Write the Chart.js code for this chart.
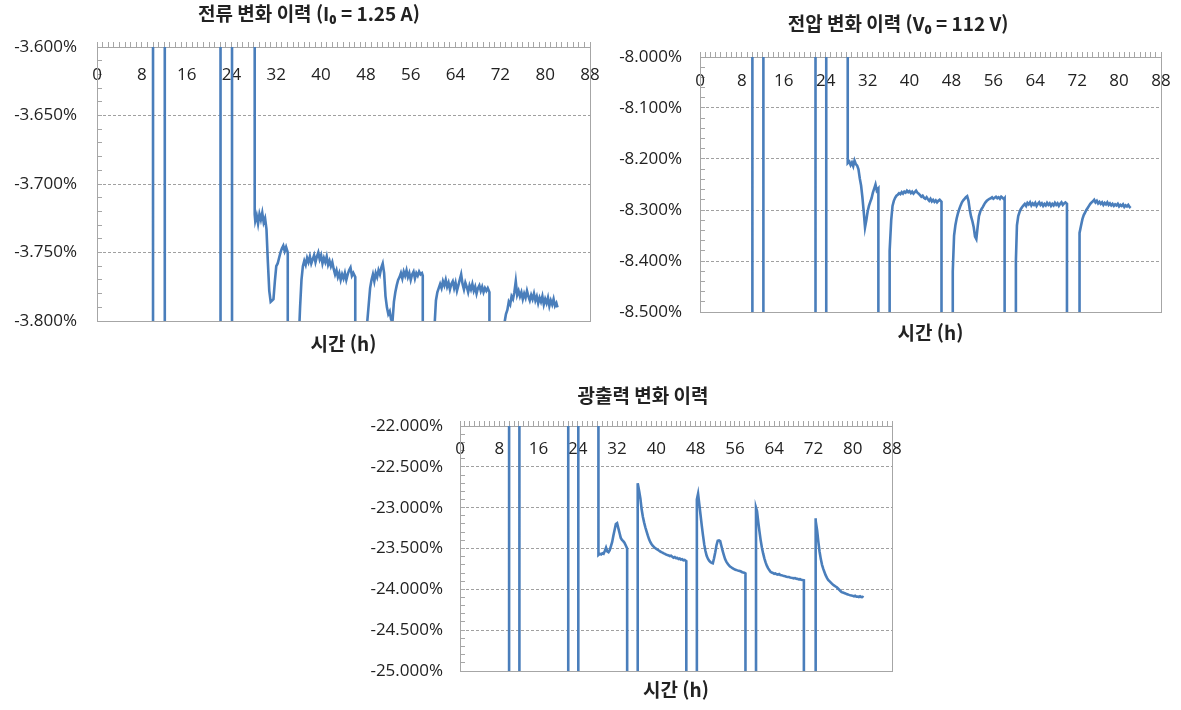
<!DOCTYPE html>
<html lang="ko">
<head>
<meta charset="utf-8">
<title>변화 이력</title>
<script src="https://cdn.jsdelivr.net/npm/chart.js@4/dist/chart.umd.min.js"></script>
<style>
  html, body { margin: 0; padding: 0; background: #fff; }
  #page { position: relative; width: 1181px; height: 710px; overflow: hidden; }
  canvas { position: absolute; }
  #current-chart { left: 0; top: 0; }
  #voltage-chart { left: 600px; top: 0; }
  #power-chart { left: 340px; top: 370px; }
</style>
</head>
<body>
<div id="page">
  <canvas id="current-chart" width="618" height="360"></canvas>
  <canvas id="voltage-chart" width="596" height="360"></canvas>
  <canvas id="power-chart" width="606" height="340"></canvas>
</div>
<script>
// sample times (h). repeated hours = trace jumps off scale (0% above, -100% below)
const hours = [
  [0, 10, 10, 12.1, 12.1, 22.05, 22.05, 24.1, 24.1, 28.15],
  [28.15, 28.25, 28.5, 28.75, 29, 29.25, 29.5, 29.75, 30, 30.25, 30.5, 30.75, 31, 31.25, 31.5, 31.75, 32, 32.25, 32.5, 32.75, 33, 33.25, 33.5, 33.75, 34.05],
  [34.05, 36.15],
  [36.15, 36.25, 36.5, 36.75, 37, 37.25, 37.5, 37.75, 38, 38.25, 38.5, 38.75, 39, 39.25, 39.5, 39.75, 40, 40.25, 40.5, 40.75, 41, 41.25, 41.5, 41.75, 42, 42.25, 42.5, 42.75, 43, 43.25, 43.5, 43.75, 44, 44.25, 44.5, 44.75, 45, 45.25, 45.5, 45.75, 46.1],
  [46.1, 48.25],
  [48.25, 48.5, 48.75, 49, 49.25, 49.5, 49.75, 50, 50.25, 50.5, 50.75, 51, 51.25, 51.5, 51.75, 52, 52.25, 52.5, 52.75, 53, 53.25, 53.5, 53.75, 54, 54.25, 54.5, 54.75, 55, 55.25, 55.5, 55.75, 56, 56.25, 56.5, 56.75, 57, 57.25, 57.5, 57.75, 58, 58.15],
  [58.15, 60.3],
  [60.3, 60.5, 60.75, 61, 61.25, 61.5, 61.75, 62, 62.25, 62.5, 62.75, 63, 63.25, 63.5, 63.75, 64, 64.25, 64.5, 64.75, 65, 65.25, 65.5, 65.75, 66, 66.25, 66.5, 66.75, 67, 67.25, 67.5, 67.75, 68, 68.25, 68.5, 68.75, 69, 69.25, 69.5, 69.75, 70.05],
  [70.05, 72.4],
  [72.4, 72.5, 72.75, 73, 73.25, 73.5, 73.75, 74, 74.25, 74.5, 74.75, 75, 75.25, 75.5, 75.75, 76, 76.25, 76.5, 76.75, 77, 77.25, 77.5, 77.75, 78, 78.25, 78.5, 78.75, 79, 79.25, 79.5, 79.75, 80, 80.25, 80.5, 80.75, 81, 81.25, 81.5, 81.75, 82, 82.2]
].flat();

// current change (%)
const current = [
  [0, 0, -100, -100, 0, 0, -100, -100, 0, 0],
  [-3.722, -3.727, -3.723, -3.729, -3.722, -3.726, -3.721, -3.728, -3.725, -3.733, -3.757, -3.778, -3.786, -3.785, -3.784, -3.771, -3.760, -3.758, -3.754, -3.750, -3.747, -3.745, -3.749, -3.746, -3.750],
  [-100, -100],
  [-3.800, -3.790, -3.770, -3.760, -3.756, -3.759, -3.754, -3.757, -3.753, -3.758, -3.755, -3.752, -3.757, -3.753, -3.750, -3.755, -3.752, -3.758, -3.754, -3.757, -3.753, -3.759, -3.756, -3.760, -3.757, -3.762, -3.766, -3.763, -3.768, -3.765, -3.770, -3.766, -3.769, -3.765, -3.770, -3.766, -3.763, -3.761, -3.767, -3.765, -3.768],
  [-100, -100],
  [-3.800, -3.788, -3.776, -3.770, -3.766, -3.771, -3.765, -3.768, -3.763, -3.766, -3.761, -3.758, -3.765, -3.782, -3.790, -3.795, -3.793, -3.799, -3.800, -3.786, -3.779, -3.774, -3.770, -3.768, -3.765, -3.769, -3.764, -3.767, -3.763, -3.768, -3.765, -3.770, -3.766, -3.764, -3.769, -3.765, -3.767, -3.764, -3.766, -3.765, -3.767],
  [-100, -100],
  [-3.800, -3.785, -3.779, -3.776, -3.773, -3.776, -3.771, -3.774, -3.770, -3.775, -3.772, -3.777, -3.773, -3.771, -3.776, -3.772, -3.778, -3.774, -3.770, -3.766, -3.773, -3.777, -3.772, -3.775, -3.779, -3.774, -3.777, -3.773, -3.778, -3.775, -3.780, -3.776, -3.774, -3.778, -3.775, -3.779, -3.776, -3.778, -3.776, -3.779],
  [-100, -100],
  [-3.815, -3.810, -3.801, -3.795, -3.792, -3.786, -3.788, -3.782, -3.784, -3.779, -3.771, -3.781, -3.778, -3.782, -3.779, -3.784, -3.780, -3.783, -3.778, -3.782, -3.785, -3.781, -3.784, -3.780, -3.785, -3.782, -3.787, -3.783, -3.786, -3.782, -3.788, -3.784, -3.787, -3.783, -3.789, -3.785, -3.788, -3.784, -3.789, -3.787, -3.790]
].flat();

// voltage change (%)
const voltage = [
  [0, 0, -100, -100, 0, 0, -100, -100, 0, 0],
  [-8.202, -8.208, -8.205, -8.212, -8.207, -8.214, -8.203, -8.210, -8.213, -8.220, -8.238, -8.252, -8.275, -8.303, -8.334, -8.320, -8.303, -8.292, -8.284, -8.277, -8.266, -8.258, -8.250, -8.262, -8.258],
  [-100, -100],
  [-8.500, -8.380, -8.320, -8.292, -8.282, -8.276, -8.272, -8.270, -8.267, -8.269, -8.265, -8.268, -8.264, -8.266, -8.262, -8.265, -8.263, -8.267, -8.264, -8.268, -8.265, -8.262, -8.266, -8.268, -8.271, -8.274, -8.272, -8.276, -8.278, -8.275, -8.279, -8.282, -8.278, -8.283, -8.280, -8.284, -8.281, -8.285, -8.282, -8.280, -8.284],
  [-100, -100],
  [-8.420, -8.350, -8.330, -8.316, -8.306, -8.298, -8.291, -8.285, -8.281, -8.278, -8.275, -8.273, -8.282, -8.300, -8.313, -8.322, -8.334, -8.352, -8.357, -8.333, -8.312, -8.303, -8.298, -8.294, -8.289, -8.285, -8.282, -8.280, -8.278, -8.277, -8.275, -8.278, -8.276, -8.274, -8.277, -8.275, -8.278, -8.274, -8.276, -8.279, -8.277],
  [-100, -100],
  [-8.400, -8.330, -8.312, -8.304, -8.298, -8.294, -8.291, -8.288, -8.292, -8.286, -8.289, -8.285, -8.291, -8.287, -8.290, -8.286, -8.292, -8.288, -8.285, -8.290, -8.287, -8.292, -8.288, -8.291, -8.286, -8.290, -8.287, -8.292, -8.288, -8.291, -8.286, -8.290, -8.287, -8.292, -8.288, -8.285, -8.290, -8.287, -8.285, -8.288],
  [-100, -100],
  [-8.360, -8.345, -8.330, -8.318, -8.310, -8.305, -8.300, -8.296, -8.292, -8.288, -8.285, -8.283, -8.280, -8.285, -8.282, -8.287, -8.284, -8.288, -8.285, -8.290, -8.286, -8.289, -8.285, -8.290, -8.287, -8.291, -8.288, -8.292, -8.289, -8.291, -8.288, -8.293, -8.290, -8.292, -8.289, -8.294, -8.291, -8.293, -8.290, -8.294, -8.296]
].flat();

// light output change (%)
const power = [
  [0, 0, -100, -100, 0, 0, -100, -100, 0, 0],
  [-23.575, -23.580, -23.565, -23.572, -23.558, -23.565, -23.530, -23.490, -23.535, -23.545, -23.520, -23.470, -23.420, -23.340, -23.270, -23.200, -23.190, -23.250, -23.310, -23.370, -23.395, -23.410, -23.430, -23.460, -23.500],
  [-100, -100],
  [-22.760, -22.700, -22.800, -22.890, -23.020, -23.110, -23.180, -23.240, -23.290, -23.340, -23.385, -23.420, -23.445, -23.465, -23.480, -23.495, -23.505, -23.515, -23.525, -23.535, -23.545, -23.550, -23.560, -23.565, -23.575, -23.580, -23.585, -23.592, -23.588, -23.600, -23.612, -23.605, -23.618, -23.615, -23.628, -23.622, -23.635, -23.630, -23.645, -23.640, -23.655],
  [-100, -100],
  [-22.900, -22.830, -22.960, -23.090, -23.220, -23.340, -23.450, -23.530, -23.590, -23.625, -23.650, -23.665, -23.675, -23.680, -23.620, -23.545, -23.460, -23.405, -23.400, -23.410, -23.470, -23.530, -23.580, -23.630, -23.660, -23.685, -23.705, -23.720, -23.730, -23.742, -23.750, -23.758, -23.762, -23.768, -23.772, -23.776, -23.782, -23.790, -23.795, -23.800, -23.805],
  [-100, -100],
  [-23.000, -23.040, -23.170, -23.290, -23.400, -23.490, -23.560, -23.620, -23.670, -23.710, -23.740, -23.765, -23.785, -23.795, -23.800, -23.810, -23.805, -23.815, -23.820, -23.812, -23.825, -23.828, -23.832, -23.838, -23.840, -23.845, -23.848, -23.850, -23.855, -23.858, -23.860, -23.865, -23.862, -23.870, -23.872, -23.878, -23.875, -23.882, -23.885, -23.890],
  [-100, -100],
  [-23.130, -23.160, -23.280, -23.420, -23.540, -23.630, -23.700, -23.750, -23.790, -23.830, -23.860, -23.885, -23.900, -23.915, -23.930, -23.945, -23.955, -23.965, -23.975, -23.990, -24.005, -24.020, -24.035, -24.040, -24.045, -24.050, -24.058, -24.062, -24.068, -24.072, -24.075, -24.080, -24.085, -24.078, -24.090, -24.088, -24.094, -24.086, -24.095, -24.092, -24.100]
].flat();

const xTicks = { min: 0, max: 88, major: 8, minor: 1 };

const LINE = '#4a7ebb';
const AXIS = '#a6a6a6';
const GRID = '#a0a0a0';
const TEXT = '#222';
const NUM_FONT = "'Open Sans', 'Liberation Sans', sans-serif";
const KR_FONT = "'Noto Sans CJK KR', 'Noto Sans', sans-serif";

function isStep(v, step) {
  return Math.abs(v / step - Math.round(v / step)) < 1e-6;
}

function makeChart(id, values, c) {
  const near = (a, b) => Math.abs(a - b) < 1e-9;
  return new Chart(document.getElementById(id), {
    type: 'line',
    data: {
      datasets: [{
        data: hours.map((h, i) => ({ x: h, y: values[i] })),
        borderColor: LINE,
        borderWidth: 2.6,
        pointRadius: 0,
        tension: 0
      }]
    },
    options: {
      responsive: false,
      animation: false,
      events: [],
      layout: { padding: 0 },
      plugins: {
        legend: { display: false },
        tooltip: { enabled: false },
        title: {
          display: true,
          text: c.title,
          color: TEXT,
          font: { family: KR_FONT, size: 19, weight: 'bold', lineHeight: '20px' },
          padding: { top: c.titleTop, bottom: c.titleBottom }
        }
      },
      scales: {
        x: {
          type: 'linear',
          position: 'top',
          min: xTicks.min,
          max: xTicks.max,
          ticks: {
            stepSize: xTicks.minor,
            autoSkip: false,
            maxRotation: 0,
            mirror: true,
            padding: 0,
            color: TEXT,
            font: { family: NUM_FONT, size: 17, lineHeight: (c.xLabelDrop * 2) + 'px' },
            callback: v => isStep(v, xTicks.major) ? String(v) : ''
          },
          grid: { drawOnChartArea: false, tickLength: 5, tickColor: AXIS },
          border: { color: AXIS }
        },
        xb: {
          type: 'linear',
          position: 'bottom',
          min: xTicks.min,
          max: xTicks.max,
          ticks: { display: false },
          grid: { display: false, drawTicks: false },
          border: { color: AXIS },
          title: {
            display: true,
            text: '시간 (h)',
            color: TEXT,
            font: { family: KR_FONT, size: 19, weight: 'bold', lineHeight: '20px' },
            padding: { top: c.axisTitleTop, bottom: c.axisTitleBottom }
          }
        },
        y: {
          min: c.min,
          max: c.max,
          ticks: {
            stepSize: c.minor,
            autoSkip: false,
            padding: c.labelGap + 5,
            color: TEXT,
            font: { family: NUM_FONT, size: 17 },
            callback: v => isStep(v, c.major) ? v.toFixed(3) + '%' : ''
          },
          grid: {
            color: ctx => {
              const v = ctx.tick.value;
              return isStep(v, c.major) && !near(v, c.min) && !near(v, c.max) ? GRID : 'rgba(0,0,0,0)';
            },
            tickLength: -5,
            tickColor: AXIS
          },
          border: { color: AXIS, dash: [3, 2] },
          afterFit: s => { s.width = c.left; }
        },
        yr: {
          position: 'right',
          min: c.min,
          max: c.max,
          ticks: { display: false },
          grid: { display: false, drawTicks: false },
          border: { color: AXIS },
          // blank strip on the right so the title centres where the original does
          afterFit: s => { s.width = c.rightGap; }
        }
      }
    }
  });
}

makeChart('current-chart', current, {
  title: '전류 변화 이력 (I₀ = 1.25 A)',
  min: -3.8, max: -3.6, major: 0.05, minor: 0.01,
  left: 97, rightGap: 28, labelGap: 20,
  titleTop: 4, titleBottom: 18, xLabelDrop: 28,
  axisTitleTop: 13, axisTitleBottom: 6
});

makeChart('voltage-chart', voltage, {
  title: '전압 변화 이력 (V₀ = 112 V)',
  min: -8.5, max: -8.0, major: 0.1, minor: 0.02,
  left: 100, rightGap: 35, labelGap: 18,
  titleTop: 14, titleBottom: 18, xLabelDrop: 24,
  axisTitleTop: 11, axisTitleBottom: 17
});

makeChart('power-chart', power, {
  title: '광출력 변화 이력',
  min: -25, max: -22, major: 0.5, minor: 0.1,
  left: 120, rightGap: 54, labelGap: 17,
  titleTop: 16, titleBottom: 15, xLabelDrop: 23,
  axisTitleTop: 9, axisTitleBottom: 10
});
</script>
</body>
</html>
